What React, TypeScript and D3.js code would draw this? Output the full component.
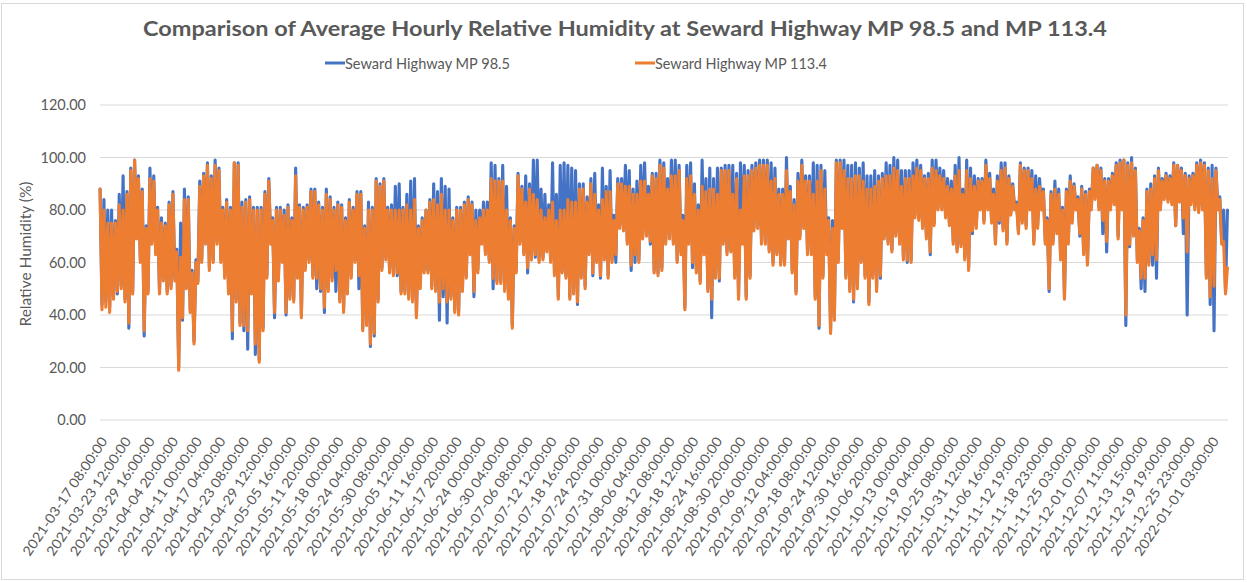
import React from "react";
import * as d3 from "d3";

// ---------- data ----------
const tickLabels = [
  "2021-03-17 08:00:00", "2021-03-23 12:00:00", "2021-03-29 16:00:00", "2021-04-04 20:00:00",
  "2021-04-11 00:00:00", "2021-04-17 04:00:00", "2021-04-23 08:00:00", "2021-04-29 12:00:00",
  "2021-05-05 16:00:00", "2021-05-11 20:00:00", "2021-05-18 00:00:00", "2021-05-24 04:00:00",
  "2021-05-30 08:00:00", "2021-06-05 12:00:00", "2021-06-11 16:00:00", "2021-06-17 20:00:00",
  "2021-06-24 00:00:00", "2021-06-30 04:00:00", "2021-07-06 08:00:00", "2021-07-12 12:00:00",
  "2021-07-18 16:00:00", "2021-07-24 20:00:00", "2021-07-31 00:00:00", "2021-08-06 04:00:00",
  "2021-08-12 08:00:00", "2021-08-18 12:00:00", "2021-08-24 16:00:00", "2021-08-30 20:00:00",
  "2021-09-06 00:00:00", "2021-09-12 04:00:00", "2021-09-18 08:00:00", "2021-09-24 12:00:00",
  "2021-09-30 16:00:00", "2021-10-06 20:00:00", "2021-10-13 00:00:00", "2021-10-19 04:00:00",
  "2021-10-25 08:00:00", "2021-10-31 12:00:00", "2021-11-06 16:00:00", "2021-11-12 19:00:00",
  "2021-11-18 23:00:00", "2021-11-25 03:00:00", "2021-12-01 07:00:00", "2021-12-07 11:00:00",
  "2021-12-13 15:00:00", "2021-12-19 19:00:00", "2021-12-25 23:00:00", "2022-01-01 03:00:00",
];
const hoursPerTickLabel = 148;
const hourCount = 7060;
const hoursPerReading = 12; // readings alternate night high / afternoon low

const yTicks = [0, 20, 40, 60, 80, 100, 120];

// Seward Highway MP 98.5 (blue)
const mp985MarApr = [
  88,44, 84,45, 80,43, 80,47, 76,48, 86,51, 93,46, 87,35, 96,49, 99,70,
  93,61, 88,32, 74,49, 96,68, 93,64, 81,49, 77,54, 75,49, 83,51, 87,54,
  65,20, 75,38, 88,51, 85,42, 57,30, 61,53, 91,61, 94,68, 98,58, 93,61,
  99,68, 96,61, 81,55, 84,49, 81,31, 98,46, 98,37,
];
const mp985AprMay = [
  83,34, 84,27, 85,49, 81,25, 81,23, 81,35, 87,55, 92,68, 77,39, 81,54,
  81,61, 80,40, 82,47, 77,46, 96,55, 82,40, 81,58, 82,61, 88,55, 88,50,
  83,49, 81,41, 88,50, 85,54, 81,49, 83,46, 82,42, 77,49, 84,55, 81,61,
  87,50, 87,35, 74,37, 83,28, 81,32, 92,46, 90,58,
];
const mp985MayJul = [
  92,62, 81,57, 82,56, 89,55, 90,49, 81,49, 86,47, 91,46, 92,40, 74,52,
  77,57, 80,57, 84,51, 90,50, 87,38, 92,47, 89,37, 88,47, 77,42, 81,41,
  81,50, 83,55, 85,64, 83,47, 80,57, 80,68, 83,64, 83,61, 98,50, 97,53,
  92,53, 97,50, 89,47, 77,36, 74,57, 94,68, 89,64,
];
const mp985JulAug = [
  93,56, 90,62, 99,62, 99,61, 88,62, 86,65, 82,61, 98,56, 86,47, 97,57,
  98,55, 97,47, 96,49, 95,44, 90,55, 90,51, 85,64, 92,55, 94,61, 82,54,
  96,62, 89,55, 95,61, 78,60, 92,74, 92,73, 97,68, 95,57, 88,60, 91,61,
  97,70, 98,71, 89,67, 94,57, 94,56, 99,58, 98,68, 92,70,
];
const mp985AugSep = [
  99,68, 99,61, 97,64, 78,43, 97,68, 98,58, 90,57, 82,53, 99,64, 92,50,
  96,39, 92,55, 96,53, 96,68, 97,64, 97,65, 97,55, 94,47, 98,68, 97,47,
  95,55, 97,73, 98,74, 99,68, 99,68, 99,65, 98,60, 96,64, 88,60, 88,60,
  100,70, 89,57, 84,49, 94,70, 99,74, 93,64, 93,64,
];
const mp985SepOct = [
  98,47, 97,35, 97,55, 95,64, 77,34, 76,39, 99,61, 99,74, 99,55, 97,50,
  97,45, 98,51, 96,61, 98,55, 93,45, 93,55, 95,50, 93,54, 94,70, 98,68,
  97,65, 100,71, 99,68, 95,62, 95,60, 95,61, 98,78, 99,77, 97,74, 93,70,
  94,63, 99,75, 99,81, 96,81, 95,78, 92,75, 91,68,
];
const mp985OctNov = [
  97,65, 100,67, 88,62, 99,58, 96,71, 93,74, 92,81, 92,76, 99,81, 94,76,
  88,68, 93,75, 98,73, 98,68, 93,79, 90,81, 83,72, 98,76, 96,74, 96,81,
  95,68, 93,74, 92,81, 88,68, 77,49, 87,68, 91,72, 88,62, 81,47, 88,68,
  93,76, 90,81, 85,70, 89,64, 87,60, 88,81, 96,85,
];
const mp985DecJan = [
  97,81, 96,71, 92,64, 92,81, 94,83, 98,70, 99,81, 99,36, 98,66, 100,71,
  96,61, 73,50, 77,49, 88,60, 90,59, 93,54, 96,81, 92,85, 94,84, 93,83,
  98,74, 97,84, 96,71, 94,40, 93,83, 94,81, 98,80, 99,81, 98,55, 96,44,
  97,34, 96,81, 85,68, 80,49, 80,
];

// Seward Highway MP 113.4 (orange)
const mp1134MarApr = [
  88,42, 80,43, 75,41, 75,46, 75,49, 82,50, 80,45, 86,37, 95,48, 99,69,
  92,60, 87,34, 73,48, 92,67, 91,63, 80,48, 75,53, 74,48, 82,50, 86,53,
  64,19, 62,39, 84,50, 84,41, 56,29, 60,52, 89,60, 93,67, 97,57, 92,60,
  97,67, 95,60, 80,54, 83,48, 80,34, 98,45, 97,36,
];
const mp1134AprMay = [
  81,36, 83,34, 84,48, 80,29, 80,22, 80,34, 86,54, 91,67, 76,41, 80,53,
  80,60, 78,41, 81,46, 76,45, 93,54, 81,39, 80,57, 81,60, 87,54, 87,54,
  82,50, 80,43, 86,49, 84,53, 80,57, 82,45, 81,41, 76,48, 83,54, 80,60,
  86,55, 86,34, 73,36, 80,29, 80,33, 91,45, 89,57,
];
const mp1134MayJul = [
  91,61, 80,56, 80,55, 80,56, 80,48, 80,48, 82,46, 80,45, 84,39, 73,50,
  76,56, 80,56, 83,50, 84,49, 82,45, 86,50, 80,45, 80,46, 76,41, 80,40,
  80,49, 82,54, 84,63, 82,49, 76,56, 77,67, 80,63, 80,60, 92,54, 91,52,
  91,52, 91,49, 80,46, 76,35, 73,56, 93,67, 88,63,
];
const mp1134JulAug = [
  83,58, 88,61, 86,63, 84,60, 80,61, 77,64, 80,60, 83,55, 76,46, 80,56,
  80,54, 84,46, 83,48, 83,45, 88,54, 88,50, 83,63, 90,56, 86,60, 80,55,
  84,61, 87,54, 87,60, 76,63, 90,73, 90,72, 89,67, 89,59, 86,63, 86,60,
  91,69, 91,70, 86,68, 93,56, 92,55, 97,57, 96,67, 88,69,
];
const mp1134AugSep = [
  93,67, 93,60, 95,63, 76,42, 92,67, 93,60, 86,56, 80,52, 89,63, 87,49,
  88,46, 88,54, 86,54, 95,67, 95,63, 95,64, 86,54, 92,46, 80,67, 93,46,
  93,54, 95,72, 96,73, 97,67, 97,67, 97,64, 91,59, 92,63, 86,59, 86,59,
  95,69, 87,56, 82,48, 91,69, 97,73, 91,63, 91,63,
];
const mp1134SepOct = [
  86,46, 91,36, 95,54, 88,63, 76,33, 73,38, 98,60, 98,73, 95,54, 92,49,
  92,46, 93,50, 93,60, 91,54, 88,44, 88,54, 89,49, 91,55, 92,69, 93,67,
  93,64, 96,70, 95,67, 89,61, 92,61, 92,60, 93,77, 96,76, 95,73, 92,69,
  92,64, 96,74, 95,80, 93,80, 92,77, 89,74, 88,67,
];
const mp1134OctNov = [
  93,64, 95,66, 86,61, 95,57, 92,72, 89,73, 91,80, 91,75, 97,80, 92,75,
  86,67, 91,76, 95,72, 96,67, 92,78, 89,80, 82,71, 97,75, 95,73, 95,80,
  92,67, 88,73, 89,80, 87,67, 76,50, 86,67, 88,71, 86,61, 80,46, 87,67,
  91,75, 89,80, 84,71, 88,63, 86,59, 87,80, 96,84,
];
const mp1134DecJan = [
  97,80, 95,76, 91,68, 91,80, 93,82, 97,69, 98,80, 99,40, 97,67, 98,70,
  95,60, 72,54, 76,54, 87,59, 88,63, 92,61, 95,80, 91,84, 93,83, 92,82,
  97,74, 97,83, 95,77, 93,64, 92,82, 93,80, 97,79, 98,80, 97,54, 95,47,
  92,51, 95,80, 84,67, 68,48, 58,
];

const mp985 = [
  ...mp985MarApr, ...mp985AprMay, ...mp985MayJul, ...mp985JulAug,
  ...mp985AugSep, ...mp985SepOct, ...mp985OctNov, ...mp985DecJan,
];
const mp1134 = [
  ...mp1134MarApr, ...mp1134AprMay, ...mp1134MayJul, ...mp1134JulAug,
  ...mp1134AugSep, ...mp1134SepOct, ...mp1134OctNov, ...mp1134DecJan,
];

const series = [
  { name: "Seward Highway MP 98.5", values: mp985, color: "#4472C4" },
  { name: "Seward Highway MP 113.4", values: mp1134, color: "#ED7D31" },
];

// ---------- layout ----------
const W = 1247;
const H = 582;
const plot = { left: 100, right: 1228, top: 105, bottom: 420 };
const FONT = "Lato, 'Open Sans', 'Liberation Sans', sans-serif";
const TEXT = "#595959";
const GRID = "#d9d9d9";

export default function App() {
  const x = d3.scaleLinear().domain([0, hourCount]).range([plot.left, plot.right]);
  const y = d3.scaleLinear().domain([0, 120]).range([plot.bottom, plot.top]);

  const line = d3
    .line<number>()
    .x((_, k) => x(k * hoursPerReading + 0.5))
    .y((v) => y(v));

  const fmt = d3.format(".2f");

  return (
    <svg
      width={W}
      height={H}
      style={{ position: "absolute", left: 0, top: 0, background: "#fff" }}
      fontFamily={FONT}
    >
      <rect x={1.5} y={3.5} width={1242} height={576} fill="#fff" stroke={GRID} strokeWidth={1} />

      <text
        x={625}
        y={35.5}
        textAnchor="middle"
        fontSize={20}
        fontWeight={700}
        fill={TEXT}
        textLength={964}
        lengthAdjust="spacingAndGlyphs"
      >
        Comparison of Average Hourly Relative Humidity at Seward Highway MP 98.5 and MP 113.4
      </text>

      {/* legend */}
      {series.map((s, i) => {
        const lx = i === 0 ? 325 : 635;
        const tw = i === 0 ? 165 : 172;
        return (
          <g key={s.name}>
            <line x1={lx} x2={lx + 20} y1={63} y2={63} stroke={s.color} strokeWidth={3} />
            <text
              x={lx + 20}
              y={68.5}
              fontSize={15}
              fill={TEXT}
              textLength={tw}
              lengthAdjust="spacingAndGlyphs"
            >
              {s.name}
            </text>
          </g>
        );
      })}

      {/* gridlines + y labels */}
      {yTicks.map((t) => (
        <g key={t}>
          <line x1={plot.left} x2={plot.right} y1={y(t)} y2={y(t)} stroke={GRID} strokeWidth={1} />
          <text x={86} y={y(t)} dy="0.36em" textAnchor="end" fontSize={14.5} fill={TEXT}>
            {fmt(t)}
          </text>
        </g>
      ))}

      <text
        transform={`translate(31,254) rotate(-90)`}
        textAnchor="middle"
        fontSize={14.5}
        fill={TEXT}
        textLength={145}
        lengthAdjust="spacingAndGlyphs"
      >
        Relative Humidity (%)
      </text>

      {/* x tick labels */}
      {tickLabels.map((lab, j) => {
        const tx = x(j * hoursPerTickLabel + 0.5);
        return (
          <text
            key={lab}
            transform={`translate(${tx + 8},${441}) rotate(-56)`}
            textAnchor="end"
            fontSize={13.5}
            fill={TEXT}
            textLength={140}
            lengthAdjust="spacingAndGlyphs"
          >
            {lab}
          </text>
        );
      })}

      {/* series */}
      {series.map((s) => (
        <path
          key={s.name}
          d={line(s.values) || ""}
          fill="none"
          stroke={s.color}
          strokeWidth={3.1}
          strokeLinejoin="round"
          strokeLinecap="round"
        />
      ))}
    </svg>
  );
}
